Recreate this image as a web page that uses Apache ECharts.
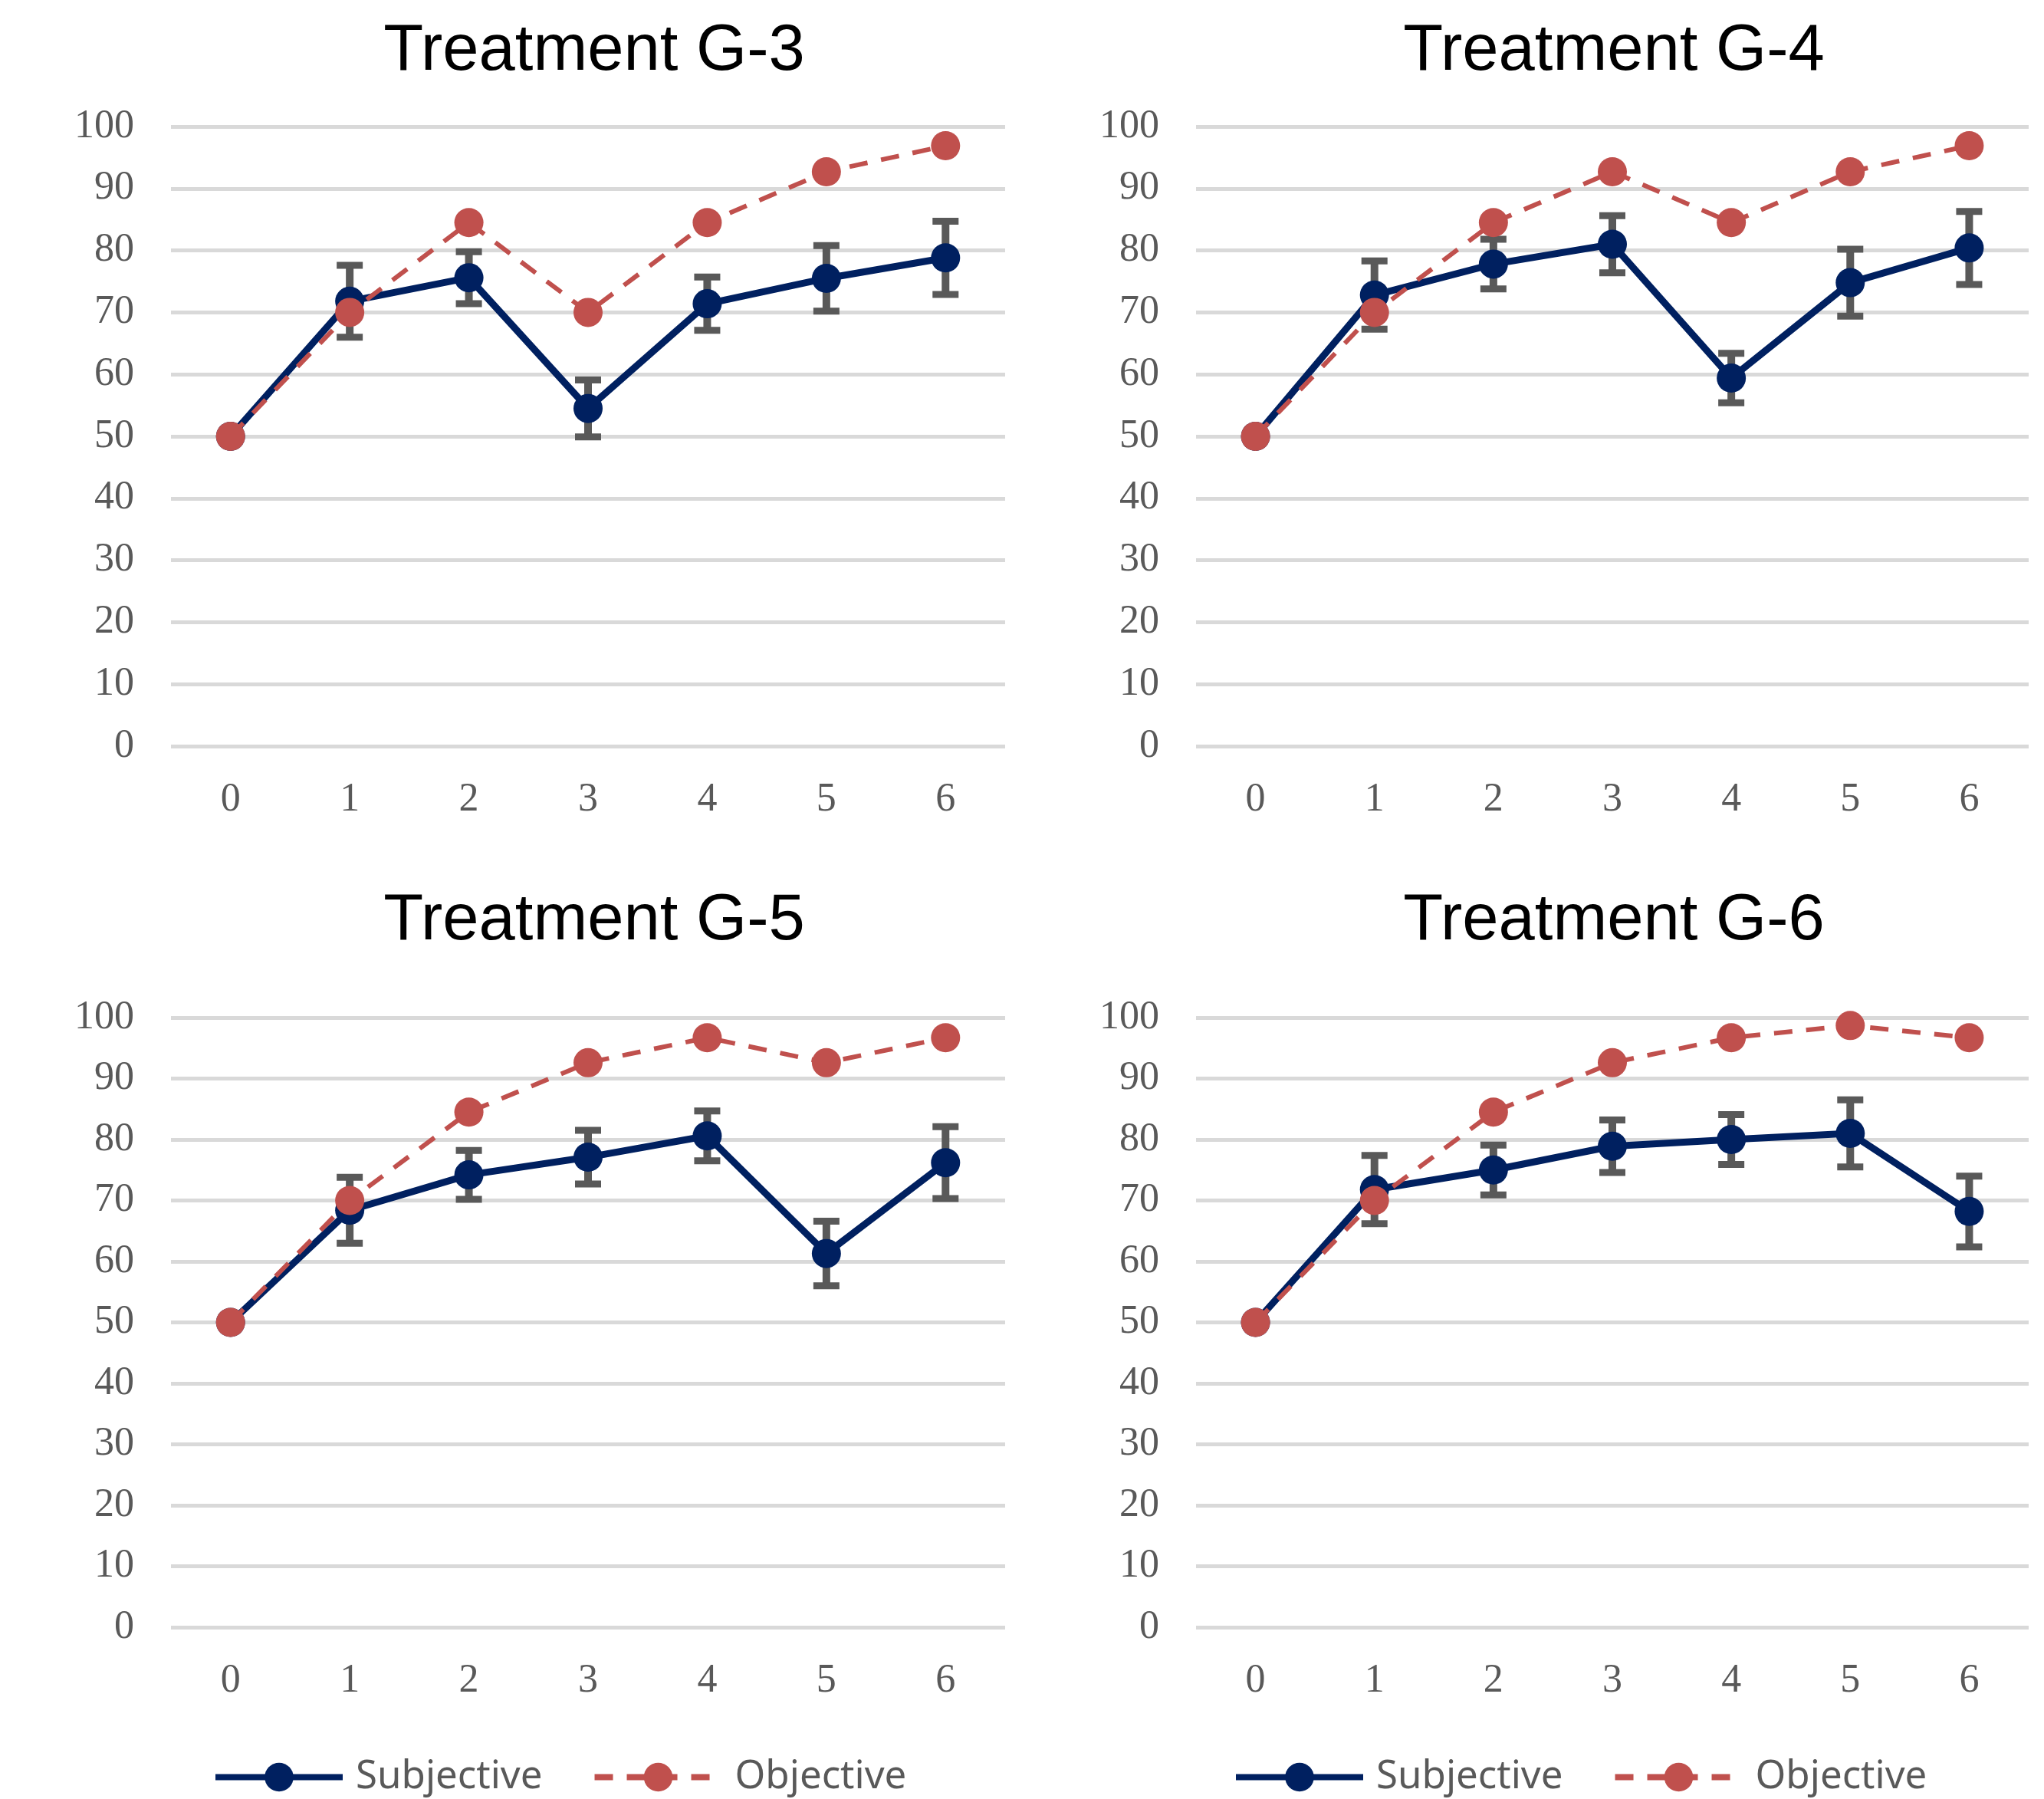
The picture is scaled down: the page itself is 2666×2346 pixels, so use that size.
<!DOCTYPE html>
<html>
<head>
<meta charset="utf-8">
<script src="https://cdn.jsdelivr.net/npm/echarts@6/dist/echarts.min.js"></script>
<style>
html,body{margin:0;padding:0;background:#fff;}
#chart{width:2666px;height:2346px;}
</style>
</head>
<body>
<div id="chart"></div>
<script>
const categories = ['0','1','2','3','4','5','6'];
const yTicks = [0,10,20,30,40,50,60,70,80,90,100];
const titles = ['Treatment G-3','Treatment G-4','Treatment G-5','Treatment G-6'];

const g3Subjective = [50, 71.8, 75.6, 54.5, 71.4, 75.5, 78.8];
const g3SubjectiveErr = [0, 5.8, 4.2, 4.6, 4.3, 5.3, 5.9];
const g3Objective = [50, 70, 84.5, 70, 84.5, 92.7, 96.9];

const g4Subjective = [50, 72.8, 77.8, 81.0, 59.4, 74.8, 80.4];
const g4SubjectiveErr = [0, 5.5, 4.0, 4.6, 4.0, 5.4, 5.9];
const g4Objective = [50, 70, 84.5, 92.7, 84.5, 92.7, 96.9];

const g5Subjective = [50, 68.4, 74.2, 77.1, 80.6, 61.3, 76.2];
const g5SubjectiveErr = [0, 5.4, 4.0, 4.4, 4.1, 5.3, 5.9];
const g5Objective = [50, 70, 84.5, 92.6, 96.7, 92.6, 96.7];

const g6Subjective = [50, 71.8, 75.0, 78.9, 80.0, 81.0, 68.2];
const g6SubjectiveErr = [0, 5.6, 4.1, 4.3, 4.1, 5.5, 5.8];
const g6Objective = [50, 70, 84.5, 92.6, 96.7, 98.7, 96.7];

const panels = [
  {sub: g3Subjective, err: g3SubjectiveErr, obj: g3Objective},
  {sub: g4Subjective, err: g4SubjectiveErr, obj: g4Objective},
  {sub: g5Subjective, err: g5SubjectiveErr, obj: g5Objective},
  {sub: g6Subjective, err: g6SubjectiveErr, obj: g6Objective}
];

const gridBoxes = [
  {left: 223, top: 165, width: 1088, height: 808},
  {left: 1560, top: 165, width: 1086, height: 808},
  {left: 223, top: 1327, width: 1088, height: 795},
  {left: 1560, top: 1327, width: 1086, height: 795}
];
const titlePos = [
  {x: 770, y: 20}, {x: 2100, y: 20}, {x: 770, y: 1154}, {x: 2100, y: 1154}
];

const NAVY = '#002060', RED = '#C0504D', GRAY = '#595959', GRID = '#D9D9D9';

function renderErr(params, api) {
  const x = api.value(0), lo = api.value(1), hi = api.value(2);
  const pLo = api.coord([x, lo]);
  const pHi = api.coord([x, hi]);
  const half = 17;
  const vStyle = {stroke: GRAY, lineWidth: 10, fill: null};
  const cStyle = {stroke: GRAY, lineWidth: 9, fill: null};
  return {
    type: 'group',
    children: [
      {type: 'line', shape: {x1: pLo[0], y1: pLo[1], x2: pHi[0], y2: pHi[1]}, style: vStyle},
      {type: 'line', shape: {x1: pLo[0] - half, y1: pLo[1], x2: pLo[0] + half, y2: pLo[1]}, style: cStyle},
      {type: 'line', shape: {x1: pHi[0] - half, y1: pHi[1], x2: pHi[0] + half, y2: pHi[1]}, style: cStyle}
    ]
  };
}

const grid = [], xAxis = [], yAxis = [], series = [], title = [];
panels.forEach((p, i) => {
  grid.push(Object.assign({containLabel: false}, gridBoxes[i]));
  title.push({
    text: titles[i], left: titlePos[i].x, top: titlePos[i].y, textAlign: 'center',
    textStyle: {fontFamily: 'Liberation Sans, Arial, sans-serif', fontSize: 85, fontWeight: 'normal', color: '#000'}
  });
  xAxis.push({
    type: 'category', gridIndex: i, data: categories, boundaryGap: true,
    axisLine: {show: false}, axisTick: {show: false},
    axisLabel: {color: GRAY, fontFamily: 'Liberation Serif, Times New Roman, serif', fontSize: 52, margin: 44},
    splitLine: {show: false}
  });
  yAxis.push({
    type: 'value', gridIndex: i, min: yTicks[0], max: yTicks[yTicks.length - 1], interval: yTicks[1] - yTicks[0],
    axisLine: {show: false}, axisTick: {show: false},
    axisLabel: {color: GRAY, fontFamily: 'Liberation Serif, Times New Roman, serif', fontSize: 52, margin: 48},
    splitLine: {show: true, lineStyle: {color: GRID, width: 5}}
  });
  const errData = [];
  p.sub.forEach((v, k) => {
    if (p.err[k] > 0) errData.push([k, v - p.err[k], v + p.err[k]]);
  });
  series.push({
    type: 'custom', name: 'err' + i, xAxisIndex: i, yAxisIndex: i, z: 1,
    renderItem: renderErr, data: errData, silent: true,
    encode: {x: 0, y: [1, 2]}
  });
  series.push({
    type: 'line', name: 'Subjective', xAxisIndex: i, yAxisIndex: i, z: 2,
    data: p.sub, symbol: 'circle', symbolSize: 38, showAllSymbol: true,
    lineStyle: {color: NAVY, width: 9}, itemStyle: {color: NAVY},
    emphasis: {disabled: true}
  });
  series.push({
    type: 'line', name: 'Objective', xAxisIndex: i, yAxisIndex: i, z: 3,
    data: p.obj, symbol: 'circle', symbolSize: 38, showAllSymbol: true,
    lineStyle: {color: RED, width: 6, type: [24, 18]}, itemStyle: {color: RED},
    emphasis: {disabled: true}
  });
});

const legendText = {color: GRAY, fontFamily: 'Noto Sans, Open Sans, sans-serif', fontSize: 51, padding: [0, 0, 0, 12]};
const legendCommon = {
  top: 2292, itemWidth: 166, itemHeight: 47, itemGap: 64, padding: 0,
  data: ['Subjective', 'Objective'], textStyle: legendText, selectedMode: false,
  lineStyle: {width: 8}
};
const legend = [
  Object.assign({left: 277}, legendCommon),
  Object.assign({left: 1608}, legendCommon)
];

const chart = echarts.init(document.getElementById('chart'), null, {renderer: 'canvas'});
chart.setOption({
  animation: false,
  backgroundColor: '#fff',
  title: title,
  legend: legend,
  grid: grid,
  xAxis: xAxis,
  yAxis: yAxis,
  series: series
});
</script>
</body>
</html>
